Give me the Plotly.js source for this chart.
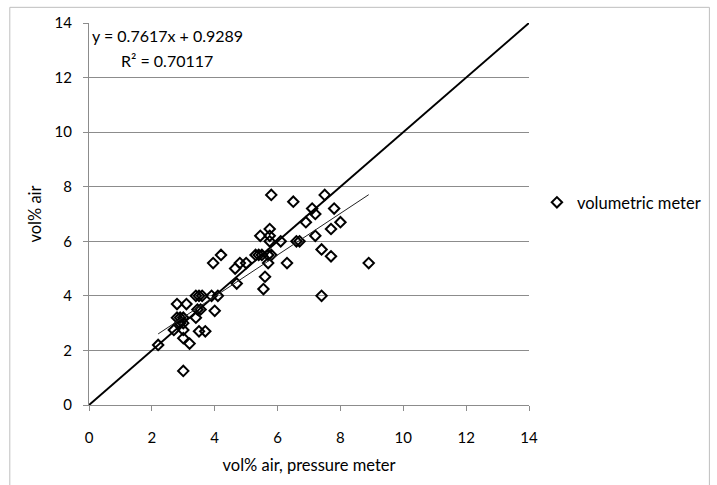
<!DOCTYPE html>
<html>
<head>
<meta charset="utf-8">
<script src="https://cdn.plot.ly/plotly-3.0.1.min.js"></script>
<style>html,body{margin:0;padding:0;background:#fff;}#chart{width:717px;height:485px;}</style>
</head>
<body>
<div id="chart"></div>
<script>
// pressure meter readings (x) and volumetric meter readings (y)
var pressureX = [2.2, 3.0, 3.2, 3.0, 2.7, 3.0, 3.5, 3.7, 2.9, 3.0, 2.8, 2.9, 3.0, 3.4, 3.45, 3.55, 4.0, 2.8, 3.1,
  3.4, 3.5, 3.6, 3.9, 4.1, 3.95, 4.2, 4.65, 4.7, 4.8, 5.0, 5.3, 5.4, 5.5, 5.7, 5.8, 5.45, 5.55, 5.6, 5.7,
  5.75, 5.75, 5.75, 5.8, 6.1, 6.3, 6.5, 6.6, 6.7, 6.9, 7.1, 7.2, 7.2, 7.4, 7.4, 7.5, 7.7, 7.7, 7.8, 8.0, 8.9];
var volumetricY = [2.2, 1.25, 2.25, 2.45, 2.75, 2.75, 2.7, 2.7, 3.0, 3.0, 3.2, 3.2, 3.2, 3.2, 3.5, 3.5, 3.45, 3.7, 3.7,
  4.0, 4.0, 4.0, 4.0, 4.0, 5.2, 5.5, 5.0, 4.45, 5.2, 5.2, 5.5, 5.5, 5.5, 5.5, 5.5, 6.2, 4.25, 4.7, 5.2,
  6.0, 6.2, 6.45, 7.7, 6.0, 5.2, 7.45, 6.0, 6.0, 6.7, 7.2, 7.0, 6.2, 5.7, 4.0, 7.7, 6.45, 5.45, 7.2, 6.7, 5.2];
var seriesName = "volumetric meter";
var slope = 0.7617, intercept = 0.9289;
var eqText = "y = 0.7617x + 0.9289";
var r2Text = "R² = 0.70117";
var identityLine = [0, 14];
var tickVals = [0, 2, 4, 6, 8, 10, 12, 14];

var xmin = Math.min.apply(null, pressureX), xmax = Math.max.apply(null, pressureX);
var trendX = [xmin, xmax];
var trendY = trendX.map(function (v) { return slope * v + intercept; });

var fam = "Lato, 'Open Sans', sans-serif";
var tickFont = {family: fam, size: 15, color: "#000"};
var titleFont = {family: fam, size: 16.5, color: "#000"};
var legendFont = {family: fam, size: 16.5, color: "#000"};
var annFont = {family: fam, size: 16, color: "#000"};

var traces = [
  {x: identityLine, y: identityLine, mode: "lines", line: {color: "#000", width: 2}, showlegend: false, hoverinfo: "skip"},
  {x: pressureX, y: volumetricY, mode: "markers", name: seriesName, type: "scatter",
   marker: {symbol: "diamond-open", size: 8, color: "#000", line: {width: 2, color: "#000"}}},
  {x: trendX, y: trendY, mode: "lines", line: {color: "#222", width: 1}, showlegend: false, hoverinfo: "skip"}
];

var layout = {
  width: 717, height: 485,
  margin: {l: 88.5, r: 187.5, t: 22.7, b: 79.5, autoexpand: false},
  paper_bgcolor: "#fff", plot_bgcolor: "#fff",
  font: tickFont,
  showlegend: true,
  legend: {x: 1.018, y: 0.53, xanchor: "left", yanchor: "middle", font: legendFont, bgcolor: "rgba(0,0,0,0)", itemwidth: 30},
  xaxis: {range: [0, 14], tickvals: tickVals, ticktext: tickVals.map(String), showgrid: false, zeroline: false,
    showline: true, linecolor: "#8c8c8c", linewidth: 1, ticks: "outside", ticklen: 5, tickcolor: "#8c8c8c",
    ticklabelstandoff: 14,
    tickfont: tickFont, title: {text: "vol% air, pressure meter", font: titleFont, standoff: 14}},
  yaxis: {range: [0, 14], tickvals: tickVals, ticktext: tickVals.map(String), showgrid: true, gridcolor: "#8c8c8c", gridwidth: 1,
    zeroline: false, showline: true, linecolor: "#8c8c8c", linewidth: 1, ticks: "outside", ticklen: 5, tickcolor: "#8c8c8c",
    ticklabelstandoff: 8,
    tickfont: tickFont, title: {text: "vol% air", font: titleFont, standoff: 8}},
  annotations: [
    {xref: "paper", yref: "paper", x: 0.003, y: 0.968, xanchor: "left", yanchor: "middle", text: eqText, showarrow: false, font: annFont},
    {xref: "paper", yref: "paper", x: 0.069, y: 0.903, xanchor: "left", yanchor: "middle", text: r2Text, showarrow: false, font: annFont}
  ],
  shapes: [
    {type: "rect", xref: "paper", yref: "paper", x0: -0.18, x1: 1.41, y0: -0.4, y1: 1.041, line: {color: "#bfbfbf", width: 1}, layer: "below"}
  ]
};

Plotly.newPlot("chart", traces, layout, {staticPlot: true, displayModeBar: false});
</script>
</body>
</html>
